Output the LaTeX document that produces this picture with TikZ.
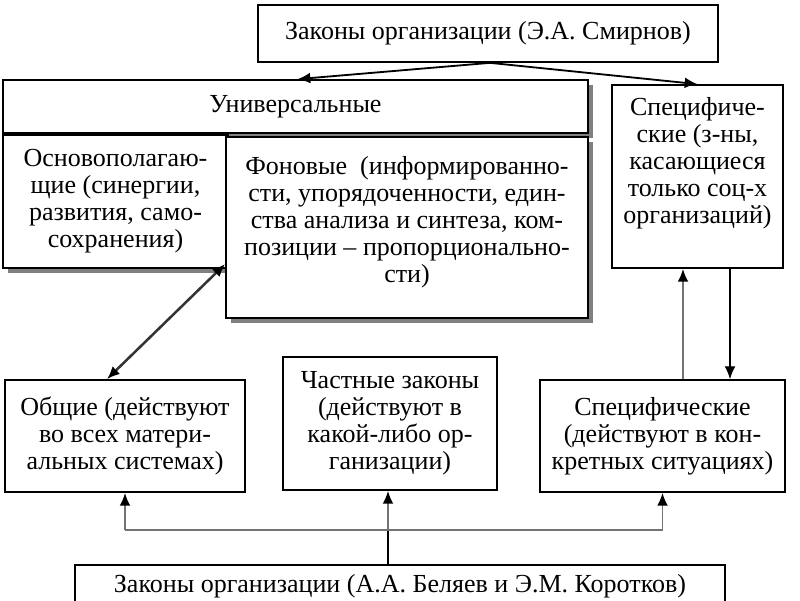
\documentclass[tikz,border=0pt]{standalone}
\usepackage{fontspec}
\setmainfont{Liberation Serif}
\usepackage{tikz}
\usetikzlibrary{arrows.meta, positioning, calc, shadows}

\begin{document}
\begin{tikzpicture}[x=0.025cm, y=-0.025cm, >={Latex[length=3.2mm, width=2.7mm, color=black]},
        box/.style={draw, line width=1.2pt, fill=white, align=center, inner sep=0pt,
            font=\fontsize{18.5}{19.2}\selectfont},
        shbox/.style={box, drop shadow={shadow xshift=1.3mm, shadow yshift=-1.3mm,
            fill=black!50, opacity=1}},
        gline/.style={draw=black!55, line width=1.3pt}]
        \useasboundingbox (0,0) rectangle (800,600);

        % Nodes
        \node[box, minimum width=11.5cm, minimum height=1.425cm] (Smir) at (488,33.5) {Законы организации (Э.А. Смирнов)};
        \node[shbox, minimum width=14.625cm, minimum height=1.325cm] (Univ) at (295.5,106.5) {Универсальные};
        \node[box, minimum width=4.275cm, minimum height=4.575cm, text depth=0.8cm] (Spec1) at (697.5,176.5)
            {Специфиче-\\ские (з-ны,\\касающиеся\\только соц-х\\организаций)};

        \node[shbox, minimum width=5.625cm, minimum height=3.325cm] (Osn) at (115.5,201.5)
            {Основополагаю-\\щие (синергии,\\развития, само-\\сохранения)};
        \node[shbox, minimum width=9.05cm, minimum height=4.525cm, text depth=0.4cm] (Fon) at (407,227.5)
            {Фоновые\ \ (информированно-\\сти, упорядоченности, един-\\ства анализа и синтеза, ком-\\позиции – пропорционально-\\сти)};

        \node[box, minimum width=6cm, minimum height=2.8cm] (Obsh) at (125,436)
            {Общие (действуют\\во всех матери-\\альных системах)};
        \node[box, minimum width=5.35cm, minimum height=3.325cm] (Chast) at (390,423.5)
            {Частные законы\\(действуют в\\какой-либо ор-\\ганизации)};
        \node[box, minimum width=6.125cm, minimum height=2.8cm] (Spec2) at (662.5,436)
            {Специфические\\(действуют в кон-\\кретных ситуациях)};

        \node[box, minimum width=16.25cm, minimum height=1.5cm, text depth=0.6cm] (Bel) at (400,595)
            {Законы организации (А.А. Беляев и Э.М. Коротков)};

        \coordinate (top) at ($(Smir.south)+(2,0)$);
        \coordinate (join) at (388,530);
        \coordinate (up) at ($(Spec2.north)+(20.5,0)$);
        \coordinate (dn) at ($(Spec1.south)+(32.5,0)$);

        \draw[->, line width=1.3pt] (top) -- ($(Univ.north)+(2,0)$);
        \draw[->, line width=1.3pt] (top) -- (Spec1.north);
        \draw[<->, line width=1.8pt, black!80] ($(Fon.north west)!0.7!(Fon.south west)$) -- ($(Obsh.north)+(-18,0)$);

        \draw[->, gline] (up) -- (up |- Spec1.south);
        \draw[->, line width=0.9pt] (dn) -- (dn |- Spec2.north);

        \draw[line width=1.3pt] (Bel.north -| join) -- (join);
        \draw[gline] (Obsh.south |- join) -- (Spec2.south |- join);
        \draw[->, gline] (Obsh.south |- join) -- (Obsh.south);
        \draw[->, gline] (join) -- (join |- Chast.south);
        \draw[->, gline] (Spec2.south |- join) -- (Spec2.south);
    \end{tikzpicture}
\end{document}
